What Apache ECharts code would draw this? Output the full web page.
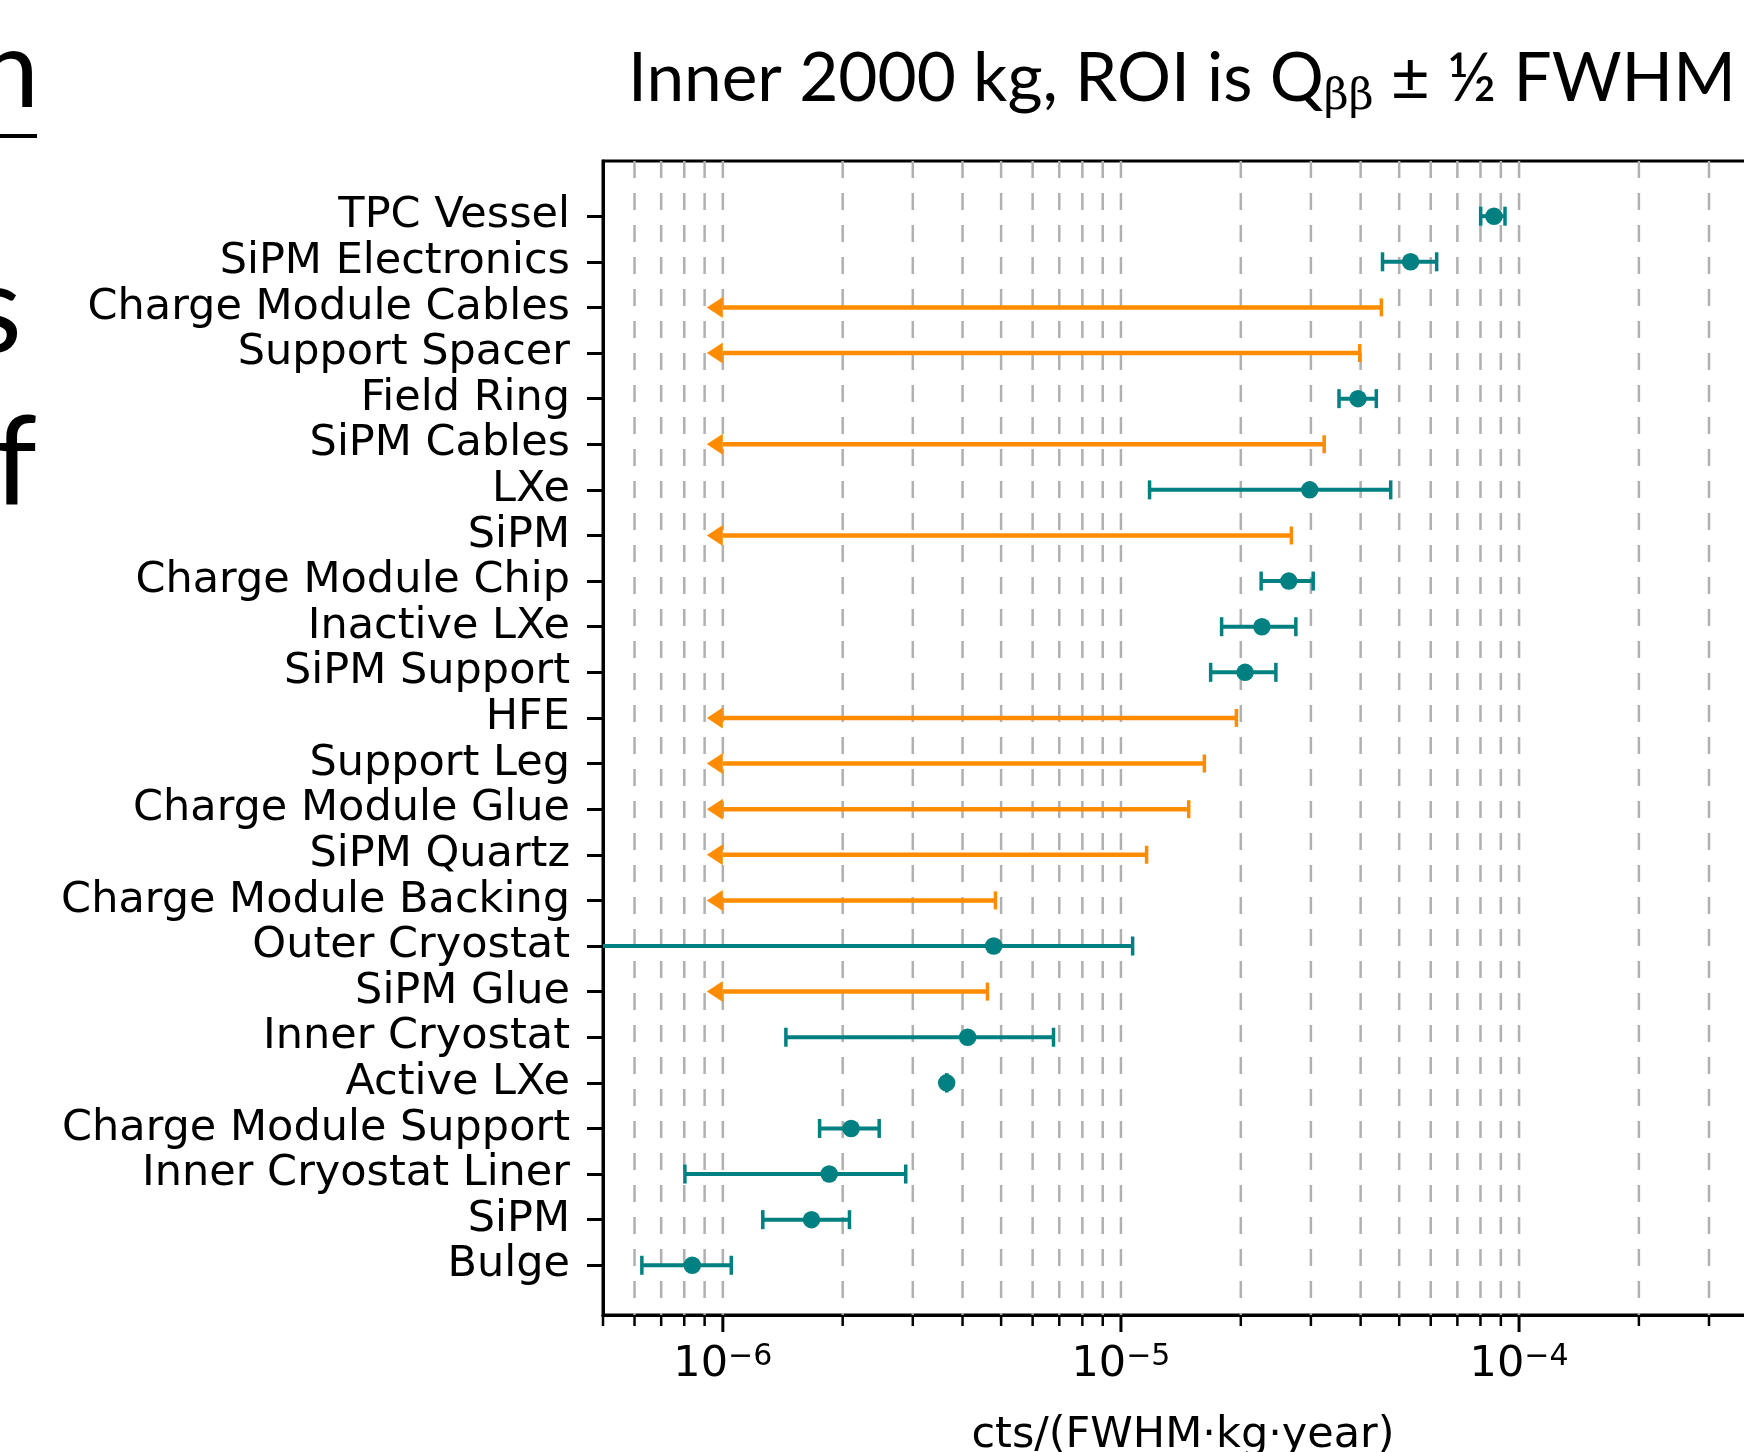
<!DOCTYPE html>
<html>
<head>
<meta charset="utf-8">
<script src="https://cdn.jsdelivr.net/npm/echarts@6/dist/echarts.min.js"></script>
<style>
  html, body { margin: 0; padding: 0; background: #fff; }
  #chart { width: 1744px; height: 1452px; }
</style>
</head>
<body>
<div id="chart"></div>
<script>
// 从上到下的部件名称
const components = ['TPC Vessel', 'SiPM Electronics', 'Charge Module Cables', 'Support Spacer', 'Field Ring',
  'SiPM Cables', 'LXe', 'SiPM', 'Charge Module Chip', 'Inactive LXe', 'SiPM Support', 'HFE', 'Support Leg',
  'Charge Module Glue', 'SiPM Quartz', 'Charge Module Backing', 'Outer Cryostat', 'SiPM Glue', 'Inner Cryostat',
  'Active LXe', 'Charge Module Support', 'Inner Cryostat Liner', 'SiPM', 'Bulge'];

// 测量值 (null = 只有上限)
const central = [8.65e-5, 5.34e-5, null, null, 3.94e-5, null, 2.98e-5, null, 2.64e-5, 2.26e-5, 2.05e-5, null, null,
  null, null, null, 4.79e-6, null, 4.12e-6, 3.65e-6, 2.10e-6, 1.85e-6, 1.67e-6, 8.38e-7];
const errLow = [8.01e-5, 4.54e-5, null, null, 3.53e-5, null, 1.18e-5, null, 2.25e-5, 1.79e-5, 1.68e-5, null, null,
  null, null, null, 2.0e-7, null, 1.44e-6, 3.65e-6, 1.75e-6, 8.03e-7, 1.26e-6, 6.26e-7];
const errHigh = [9.22e-5, 6.21e-5, null, null, 4.38e-5, null, 4.76e-5, null, 3.04e-5, 2.75e-5, 2.45e-5, null, null,
  null, null, null, 1.07e-5, null, 6.77e-6, 3.65e-6, 2.47e-6, 2.88e-6, 2.08e-6, 1.05e-6];

// 上限
const upperLimit = [null, null, 4.51e-5, 3.98e-5, null, 3.24e-5, null, 2.68e-5, null, null, null, 1.95e-5, 1.62e-5,
  1.48e-5, 1.16e-5, 4.84e-6, null, 4.62e-6, null, null, null, null, null, null];
const limitFloor = 1e-6;

// 网格线 / 刻度
const majorTicks = [1e-6, 1e-5, 1e-4];
const minorTicks = [5e-7, 6e-7, 7e-7, 8e-7, 9e-7, 2e-6, 3e-6, 4e-6, 5e-6, 6e-6, 7e-6, 8e-6, 9e-6,
  2e-5, 3e-5, 4e-5, 5e-5, 6e-5, 7e-5, 8e-5, 9e-5, 2e-4, 3e-4, 4e-4];
const gridValues = [6e-7, 7e-7, 8e-7, 9e-7, 1e-6, 2e-6, 3e-6, 4e-6, 5e-6, 6e-6, 7e-6, 8e-6, 9e-6, 1e-5,
  2e-5, 3e-5, 4e-5, 5e-5, 6e-5, 7e-5, 8e-5, 9e-5, 1e-4, 2e-4, 3e-4, 4e-4];

const xMin = 5e-7, xMax = 4.1e-4;
const yMin = -1.21, yMax = 24.09;
const teal = '#008080';
const orange = '#ff8c00';
const fontMain = 'DejaVu Sans';

const pointData = [], errData = [], limitData = [];
components.forEach((c, i) => {
  if (central[i] != null) {
    pointData.push([central[i], i]);
    errData.push([errLow[i], errHigh[i], i]);
  }
  if (upperLimit[i] != null) limitData.push([limitFloor, upperLimit[i], i]);
});

const myChart = echarts.init(document.getElementById('chart'));

const option = {
  animation: false,
  backgroundColor: '#fff',
  grid: {
    left: 603, right: -19, top: 161, bottom: 137,
    outerBoundsMode: 'none',
    containLabel: false,
    show: true, borderColor: '#000', borderWidth: 3
  },
  graphic: [
    {
      type: 'text', x: 628, y: 39,
      style: {
        text: '{a|Inner 2000 kg, ROI is Q}{s|ββ}{a| ± ½ FWHM}',
        verticalAlign: 'top',
        rich: {
          a: { fontFamily: 'Lato', fontSize: 67.5, lineHeight: 80, fill: '#000' },
          s: { fontFamily: 'DejaVu Serif', fontSize: 43, lineHeight: 0, verticalAlign: 'bottom', fill: '#000' }
        }
      }
    },
    // 左侧被裁掉的幻灯片文字
    { type: 'text', x: 39, y: 126, style: { text: 'n', fontFamily: 'Lato', fontSize: 108, textAlign: 'right', verticalAlign: 'bottom', fill: '#000' } },
    { type: 'rect', shape: { x: 0, y: 134, width: 37, height: 4 }, style: { fill: '#000' } },
    { type: 'text', x: 22, y: 374, style: { text: 's', fontFamily: 'Lato', fontSize: 124, textAlign: 'right', verticalAlign: 'bottom', fill: '#000' } },
    { type: 'text', x: 37, y: 527, style: { text: 'f', fontFamily: 'Lato', fontSize: 124, textAlign: 'right', verticalAlign: 'bottom', fill: '#000' } }
  ],
  xAxis: {
    type: 'log',
    logBase: 10,
    min: xMin,
    max: xMax,
    axisLine: { show: true, onZero: false, lineStyle: { color: '#000', width: 3 } },
    axisTick: { show: false },
    splitLine: { show: false },
    axisLabel: {
      showMinLabel: false,
      showMaxLabel: false,
      margin: 27,
      formatter: v => {
        const e = Math.log10(v);
        if (Math.abs(e - Math.round(e)) > 1e-6) return '';
        return '{b|10}{e|\u2212' + Math.abs(Math.round(e)) + '}';
      },
      rich: {
        b: { fontFamily: fontMain, fontSize: 43, lineHeight: 46, color: '#000' },
        e: { fontFamily: fontMain, fontSize: 30, lineHeight: 22, verticalAlign: 'top', color: '#000' }
      }
    },
    name: 'cts/(FWHM\u00b7kg\u00b7year)',
    nameLocation: 'middle',
    nameGap: 96,
    nameTextStyle: { fontFamily: fontMain, fontSize: 43, lineHeight: 50, color: '#000' }
  },
  yAxis: {
    type: 'value',
    inverse: true,
    min: yMin,
    max: yMax,
    axisLine: { show: true, onZero: false, lineStyle: { color: '#000', width: 3 } },
    axisTick: { show: true, length: 16, customValues: components.map((c, i) => i), lineStyle: { color: '#000', width: 3 } },
    splitLine: { show: false },
    axisLabel: {
      customValues: components.map((c, i) => i),
      margin: 33,
      padding: [7, 0, 0, 0],
      fontFamily: fontMain,
      fontSize: 43,
      color: '#000',
      formatter: v => components[Math.round(v)] || ''
    }
  },
  series: [
    {
      name: 'grid',
      type: 'custom',
      z: 1,
      silent: true,
      data: gridValues.map(v => [v, 0]),
      encode: { x: 0, y: 1 },
      renderItem: (params, api) => {
        const v = api.value(0);
        const p1 = api.coord([v, yMin]);
        const p2 = api.coord([v, yMax]);
        return {
          type: 'line',
          shape: { x1: p1[0], y1: p1[1], x2: p2[0], y2: p2[1] },
          style: { stroke: '#b0b0b0', lineWidth: 2.5, lineDash: [17, 15] }
        };
      }
    },
    {
      name: 'ticks',
      type: 'custom',
      z: 6,
      clip: false,
      silent: true,
      data: majorTicks.map(v => [v, 1]).concat(minorTicks.map(v => [v, 0])),
      encode: { x: 0, y: 1 },
      renderItem: (params, api) => {
        const p = api.coord([api.value(0), yMax]);
        const len = api.value(1) ? 17 : 11;
        return {
          type: 'line',
          shape: { x1: p[0], y1: p[1], x2: p[0], y2: p[1] + len },
          style: { stroke: '#000', lineWidth: api.value(1) ? 3 : 2.5 }
        };
      }
    },
    {
      name: 'limits',
      type: 'custom',
      z: 3,
      clip: true,
      data: limitData,
      encode: { x: [0, 1], y: 2 },
      renderItem: (params, api) => {
        const f = api.coord([api.value(0), api.value(2)]);
        const u = api.coord([api.value(1), api.value(2)]);
        const y = f[1];
        return {
          type: 'group',
          children: [
            { type: 'line', shape: { x1: f[0], y1: y, x2: u[0], y2: y }, style: { stroke: orange, lineWidth: 4.5 } },
            { type: 'line', shape: { x1: u[0], y1: y - 9, x2: u[0], y2: y + 9 }, style: { stroke: orange, lineWidth: 3.5 } },
            { type: 'polygon', shape: { points: [[f[0] - 16, y], [f[0], y - 10.5], [f[0], y + 10.5]] }, style: { fill: orange } }
          ]
        };
      }
    },
    {
      name: 'errors',
      type: 'custom',
      z: 4,
      clip: true,
      data: errData,
      encode: { x: [0, 1], y: 2 },
      renderItem: (params, api) => {
        const lo = api.coord([api.value(0), api.value(2)]);
        const hi = api.coord([api.value(1), api.value(2)]);
        const y = lo[1];
        const st = { stroke: teal, lineWidth: 4 };
        const cap = { stroke: teal, lineWidth: 3.5 };
        return {
          type: 'group',
          children: [
            { type: 'line', shape: { x1: lo[0], y1: y, x2: hi[0], y2: y }, style: st },
            { type: 'line', shape: { x1: lo[0], y1: y - 9.5, x2: lo[0], y2: y + 9.5 }, style: cap },
            { type: 'line', shape: { x1: hi[0], y1: y - 9.5, x2: hi[0], y2: y + 9.5 }, style: cap }
          ]
        };
      }
    },
    {
      name: 'points',
      type: 'scatter',
      z: 5,
      symbol: 'circle',
      symbolSize: 17.5,
      itemStyle: { color: teal, opacity: 1 },
      data: pointData
    }
  ]
};

myChart.setOption(option);
</script>
</body>
</html>
